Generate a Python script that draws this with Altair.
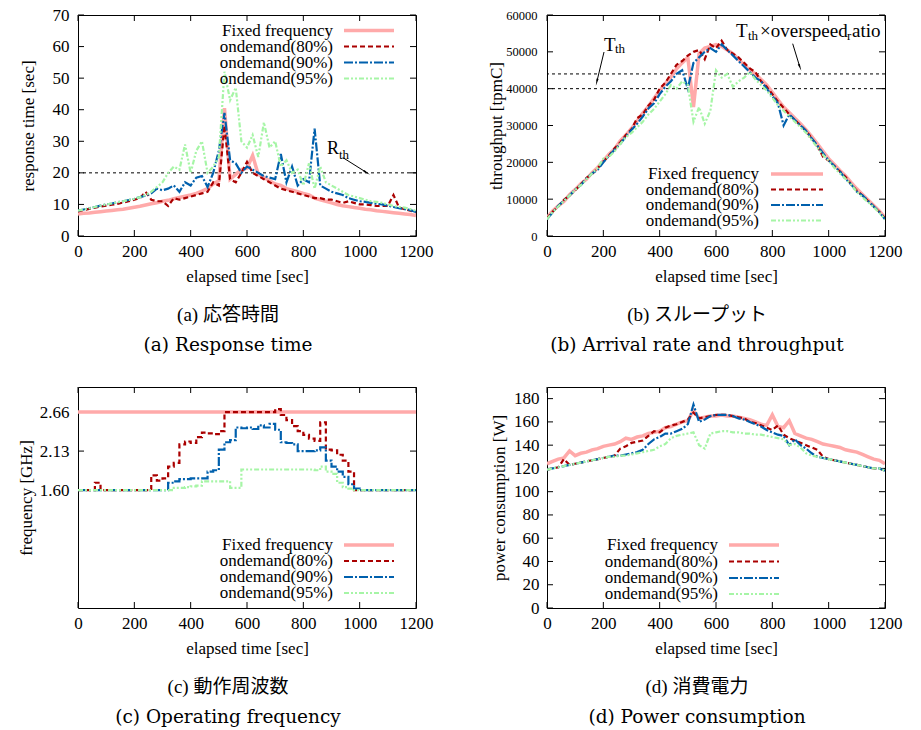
import altair as alt
import pandas as pd

SERIF = "Liberation Serif"
CAPFONT = "Liberation Serif, Noto Sans CJK JP"
CAPFONT_EN = "DejaVu Serif"

elapsed = list(range(0, 1201, 20))
x_ticks = [0, 200, 400, 600, 800, 1000, 1200]

SERIES = ["Fixed frequency", "ondemand(80%)", "ondemand(90%)", "ondemand(95%)"]
COLORS = ["#ffaaaa", "#aa0000", "#0060ad", "#a6f5a6"]
DASHES = [None, [5, 3], [9, 2, 2, 2], [5, 2, 2, 2, 2, 2]]
WIDTHS = [3.5, 2.2, 2.2, 2.2]

# (a) response time [sec]
resp_fixed = [7.0, 7.2, 7.3, 7.5, 7.7, 7.9, 8.1, 8.3, 8.5, 8.8,
              9.1, 9.4, 9.8, 10.2, 10.5, 11.0, 11.3, 11.8, 12.2, 12.6,
              13.0, 13.5, 14.2, 15.0, 16.5, 17.5, 40.5, 18.0, 19.5, 21.0,
              21.5, 25.5, 19.5, 18.5, 17.5, 16.5, 16.0, 15.0, 14.5, 14.0,
              13.5, 13.0, 12.0, 11.5, 11.0, 10.5, 10.0, 9.6, 9.3, 9.0,
              8.8, 8.5, 8.3, 8.0, 7.8, 7.6, 7.4, 7.2, 7.0, 6.8, 6.5]
resp_80 = [7.8, 8.2, 8.6, 9.0, 9.3, 9.6, 9.9, 10.2, 10.6, 11.0,
           11.5, 12.0, 14.0, 11.5, 11.0, 11.0, 9.5, 12.0, 11.5, 12.0,
           12.5, 13.0, 13.5, 14.0, 17.0, 16.0, 35.0, 18.0, 17.0, 20.0,
           23.5, 20.0, 19.0, 18.0, 17.0, 16.0, 15.0, 14.5, 14.0, 13.5,
           13.0, 12.5, 12.0, 12.0, 11.5, 11.5, 11.0, 10.5, 11.0, 10.5,
           10.0, 10.0, 9.8, 9.5, 9.5, 9.5, 13.0, 9.0, 8.5, 8.0, 7.5]
resp_90 = [8.0, 8.4, 8.8, 9.2, 9.6, 10.0, 10.3, 10.7, 11.0, 11.4,
           11.8, 12.3, 12.8, 13.5, 15.0, 14.5, 15.0, 16.0, 14.0, 17.0,
           16.0, 18.5, 19.0, 15.5, 20.0, 27.0, 39.0, 24.0, 23.0, 20.0,
           22.0, 21.0, 20.0, 19.0, 18.5, 18.0, 26.0, 17.0, 22.0, 16.0,
           18.0, 17.0, 34.0, 16.0, 15.0, 14.0, 13.5, 13.0, 12.0, 11.5,
           11.0, 10.8, 10.5, 10.2, 10.0, 9.6, 9.2, 8.8, 8.5, 8.2, 7.6]
resp_95 = [8.0, 8.4, 8.8, 9.2, 9.6, 10.0, 10.3, 10.7, 11.0, 11.4,
           11.8, 12.3, 13.0, 14.0, 15.5, 17.0, 20.0, 22.0, 21.0, 29.0,
           20.0, 27.0, 30.0, 20.0, 22.0, 25.0, 52.0, 43.0, 47.0, 30.0,
           28.0, 32.0, 25.0, 36.0, 28.0, 30.0, 22.0, 24.0, 20.0, 21.0,
           16.0, 23.0, 15.0, 22.0, 17.0, 16.0, 15.0, 14.0, 13.0, 12.5,
           12.0, 11.5, 11.0, 10.8, 10.5, 10.0, 9.5, 9.2, 9.0, 8.5, 8.0]
resp_threshold = [20]
resp_ticks = [0, 10, 20, 30, 40, 50, 60, 70]

# (b) throughput [tpmC]
tput_fixed = [5000, 6800, 8200, 9400, 11200, 12600, 14200, 15400, 17200, 18600,
              20400, 22200, 23600, 25800, 27400, 29200, 31200, 33400, 35200, 37400,
              39400, 41400, 43200, 45400, 47000, 48500, 35000, 49500, 51000, 51500,
              52000, 51500, 50500, 49500, 48000, 46500, 45000, 44000, 42500, 41000,
              39000, 37000, 35000, 33500, 32000, 30500, 28800, 27000, 25000, 23000,
              21000, 19400, 17800, 16300, 14500, 12800, 11300, 9800, 8300, 6800, 5000]
tput_80 = [4800, 6600, 8000, 9800, 11000, 12400, 14000, 15800, 16800, 18400,
           20200, 21800, 23800, 25400, 27400, 29000, 32000, 33000, 35400, 37000,
           40000, 41600, 44000, 46500, 47500, 49000, 50000, 50500, 48000, 52000,
           51000, 53000, 50500, 49500, 48500, 47000, 45500, 44500, 42000, 40500,
           38500, 36500, 34800, 33000, 31500, 30000, 28500, 26500, 24500, 21500,
           20500, 19000, 17500, 16000, 14000, 12300, 11000, 9500, 8000, 6500, 4800]
tput_90 = [4500, 6400, 8200, 9600, 11000, 12600, 13800, 15600, 17000, 18000,
           20000, 21800, 23400, 25000, 27000, 28800, 30500, 32400, 34600, 36000,
           38500, 40500, 42000, 44000, 45000, 40000, 47000, 48500, 50000, 51000,
           50000, 52000, 50500, 49000, 47500, 46000, 44500, 43000, 42000, 40000,
           38000, 36000, 30000, 33000, 31500, 30000, 28500, 26500, 24500, 22500,
           20500, 19000, 17500, 15500, 14000, 12000, 11000, 9500, 8000, 6500, 4500]
tput_95 = [4500, 6500, 8000, 9500, 11000, 12500, 13800, 15400, 17000, 18500,
           21000, 21500, 23000, 25000, 26800, 28000, 29500, 31000, 33000, 34500,
           36500, 38500, 41000, 40000, 42000, 41000, 31000, 35000, 30500, 34000,
           45000, 43000, 44000, 40500, 42000, 43000, 44500, 42500, 41000, 39500,
           37500, 35500, 34000, 32500, 31000, 29500, 28000, 26000, 24000, 22000,
           20500, 18500, 17000, 15500, 14000, 12000, 10500, 9200, 7800, 6300, 4500]
tput_thresholds = [40000, 44000]
tput_ticks = [0, 10000, 20000, 30000, 40000, 50000, 60000]

# (c) frequency [GHz]
freq_fixed_time = [0, 1200]
freq_fixed = [2.66, 2.66]
freq_80 = [1.60, 1.60, 1.60, 1.70, 1.60, 1.60, 1.60, 1.60, 1.60, 1.60,
           1.60, 1.60, 1.60, 1.80, 1.73, 1.76, 1.92, 1.97, 2.22, 2.26,
           2.24, 2.32, 2.38, 2.37, 2.36, 2.40, 2.66, 2.66, 2.66, 2.66,
           2.66, 2.66, 2.66, 2.66, 2.66, 2.70, 2.62, 2.55, 2.47, 2.40,
           2.35, 2.30, 2.27, 2.52, 2.15, 2.14, 2.08, 2.00, 1.85, 1.60,
           1.60, 1.60, 1.60, 1.60, 1.60, 1.60, 1.60, 1.60, 1.60, 1.60, 1.60]
freq_90 = [1.60, 1.60, 1.60, 1.60, 1.60, 1.60, 1.60, 1.60, 1.60, 1.60,
           1.60, 1.60, 1.60, 1.60, 1.60, 1.60, 1.70, 1.72, 1.75, 1.75,
           1.76, 1.76, 1.76, 1.85, 1.87, 2.15, 2.25, 2.28, 2.45, 2.44,
           2.45, 2.43, 2.48, 2.45, 2.50, 2.42, 2.25, 2.24, 2.22, 2.13,
           2.13, 2.13, 2.14, 2.18, 2.00, 1.92, 1.85, 1.78, 1.68, 1.62,
           1.60, 1.60, 1.60, 1.60, 1.60, 1.60, 1.60, 1.60, 1.60, 1.60, 1.60]
freq_95 = [1.60, 1.60, 1.60, 1.60, 1.60, 1.60, 1.60, 1.60, 1.60, 1.60,
           1.60, 1.60, 1.60, 1.60, 1.60, 1.60, 1.60, 1.63, 1.63, 1.64,
           1.65, 1.66, 1.72, 1.72, 1.72, 1.72, 1.72, 1.63, 1.63, 1.88,
           1.88, 1.88, 1.88, 1.88, 1.88, 1.88, 1.88, 1.88, 1.88, 1.88,
           1.88, 1.88, 1.87, 1.92, 1.85, 1.82, 1.70, 1.64, 1.62, 1.60,
           1.60, 1.60, 1.60, 1.60, 1.60, 1.60, 1.60, 1.60, 1.60, 1.60, 1.60]
freq_ticks = [1.60, 2.13, 2.66]

# (d) power consumption [W]
pow_fixed = [124, 126, 128, 129, 135, 131, 133, 134, 136, 137,
             139, 140, 141, 143, 146, 145, 147, 148, 150, 151,
             152, 155, 156, 158, 160, 161, 170, 163, 164, 165,
             165, 166, 165, 165, 164, 163, 162, 160, 158, 157,
             166, 156, 155, 161, 150, 148, 146, 145, 143, 141,
             140, 139, 138, 136, 135, 134, 132, 130, 128, 127, 124]
pow_80 = [119, 120, 121, 128, 123, 124, 125, 126, 127, 128,
          129, 130, 131, 137, 139, 142, 143, 144, 148, 152,
          151, 155, 157, 158, 160, 162, 168, 163, 164, 165,
          166, 166, 166, 165, 164, 163, 160, 159, 157, 155,
          153, 157, 149, 146, 144, 142, 140, 138, 136, 130,
          128, 127, 126, 125, 124, 123, 122, 121, 120, 120, 118]
pow_90 = [119, 120, 121, 122, 123, 124, 125, 126, 127, 128,
          129, 130, 131, 131, 132, 133, 134, 136, 141, 145,
          147, 150, 150, 152, 154, 158, 175, 160, 162, 165,
          166, 166, 166, 165, 163, 162, 160, 158, 156, 153,
          151, 149, 148, 140, 145, 140, 137, 133, 130, 129,
          128, 127, 126, 125, 124, 123, 122, 121, 120, 120, 118]
pow_95 = [119, 120, 121, 122, 123, 124, 125, 126, 127, 128,
          129, 130, 130, 131, 131, 132, 133, 134, 135, 136,
          139, 141, 146, 148, 149, 150, 151, 140, 137, 150,
          151, 152, 152, 151, 151, 150, 150, 149, 149, 148,
          147, 146, 145, 140, 141, 138, 133, 131, 130, 129,
          128, 127, 126, 125, 124, 123, 122, 121, 120, 120, 118]
pow_ticks = [0, 20, 40, 60, 80, 100, 120, 140, 160, 180]

W, H = 338, 221
TICK = 6


def one_row():
    return pd.DataFrame({"k": [0]})


def text_layer(txt, x, y, size, align="left", font=SERIF):
    return alt.Chart(pd.DataFrame({"s": [txt]})).mark_text(
        font=font, fontSize=size, align=align, baseline="middle", color="black"
    ).encode(text="s:N", x=alt.value(x), y=alt.value(y))


def arrow(x1, y1, x2, y2, angle):
    shaft = alt.Chart(one_row()).mark_rule(color="black", strokeWidth=1).encode(
        x=alt.value(x1), y=alt.value(y1), x2=alt.value(x2), y2=alt.value(y2))
    head = alt.Chart(one_row()).mark_point(
        shape="wedge", filled=True, color="black", size=70, angle=angle, opacity=1
    ).encode(x=alt.value(x2), y=alt.value(y2))
    return [shaft, head]


def make_panel(times, values, ydom, yticks, ytitle, yfmt, ylab_size, ylab_pad,
               ytitle_x, legend, captions, thresholds=None, interp="linear",
               extras=None):
    xs = alt.Scale(domain=[0, 1200], nice=False, zero=False)
    ys = alt.Scale(domain=ydom, nice=False, zero=False)
    xaxis = alt.Axis(title="elapsed time [sec]", values=x_ticks, format="d",
                     ticks=False, domain=False, grid=False, labelFont=SERIF,
                     labelFontSize=17, labelPadding=7, labelFlush=False,
                     labelOverlap=False, labelColor="black", titleFont=SERIF,
                     titleFontSize=17, titleFontWeight="normal",
                     titleColor="black", titleY=40, titleBaseline="middle")
    yaxis = alt.Axis(title=ytitle, values=yticks, format=yfmt, ticks=False,
                     domain=False, grid=False, labelFont=SERIF,
                     labelFontSize=ylab_size, labelPadding=ylab_pad,
                     labelFlush=False, labelOverlap=False, labelColor="black",
                     titleFont=SERIF, titleFontSize=17, titleFontWeight="normal",
                     titleColor="black", titleX=ytitle_x, titleBaseline="middle")
    X = alt.X("t:Q", scale=xs, axis=xaxis)
    Y = alt.Y("v:Q", scale=ys, axis=yaxis)
    layers = []
    ydf = pd.DataFrame({"v": yticks})
    xdf = pd.DataFrame({"t": x_ticks})
    layers.append(alt.Chart(ydf).mark_rule(color="black", strokeWidth=1).encode(
        y=Y, x=alt.value(0), x2=alt.value(TICK)))
    layers.append(alt.Chart(ydf).mark_rule(color="black", strokeWidth=1).encode(
        y=Y, x=alt.value(W - TICK), x2=alt.value(W)))
    layers.append(alt.Chart(xdf).mark_rule(color="black", strokeWidth=1).encode(
        x=X, y=alt.value(H - TICK), y2=alt.value(H)))
    layers.append(alt.Chart(xdf).mark_rule(color="black", strokeWidth=1).encode(
        x=X, y=alt.value(0), y2=alt.value(TICK)))
    if thresholds:
        layers.append(alt.Chart(pd.DataFrame({"v": thresholds})).mark_rule(
            color="black", strokeWidth=1, strokeDash=[3, 3]).encode(y=Y))
    for i in range(4):
        kw = dict(color=COLORS[i], strokeWidth=WIDTHS[i], clip=True,
                  interpolate=(interp if i > 0 else "linear"))
        if DASHES[i]:
            kw["strokeDash"] = DASHES[i]
        df = pd.DataFrame({"t": times[i], "v": values[i]})
        layers.append(alt.Chart(df).mark_line(**kw).encode(x=X, y=Y))
    # legend (gnuplot style: label then sample)
    tx, sx0, sx1, rows = legend
    for i in range(4):
        layers.append(text_layer(SERIES[i], tx, rows[i], 17, align="right"))
        kw = dict(color=COLORS[i], strokeWidth=WIDTHS[i])
        if DASHES[i]:
            kw["strokeDash"] = DASHES[i]
        layers.append(alt.Chart(one_row()).mark_rule(**kw).encode(
            x=alt.value(sx0), x2=alt.value(sx1), y=alt.value(rows[i])))
    if extras:
        layers += extras
    layers.append(text_layer(captions[0], 150, H + 79, 19, align="center", font=CAPFONT))
    layers.append(text_layer(captions[1], 150, H + 109, 18.5, align="center", font=CAPFONT_EN))
    return alt.layer(*layers).properties(width=W, height=H)


a_extras = [text_layer("R", 249, 133.5, 18), text_layer("th", 261, 139.5, 13)]
a_extras += arrow(264.7, 142.5, 287.9, 157.1, 122)

b_extras = [text_layer("T", 57, 29.5, 19), text_layer("th", 68, 34, 13),
            text_layer("T", 189, 16, 19), text_layer("th", 201, 21, 13),
            text_layer("×overspeed", 213, 16, 19), text_layer("r", 300, 21, 13),
            text_layer("atio", 305, 16, 19)]
b_extras += arrow(57, 37, 50, 66, 194)
b_extras += arrow(245.7, 28.7, 252.6, 51.3, 159)

pa = make_panel([elapsed] * 4, [resp_fixed, resp_80, resp_90, resp_95], [0, 70],
                resp_ticks, "response time [sec]", "d", 17, 9, -49.5,
                (255, 266, 316, [15.5, 31.5, 47.5, 63.5]),
                ["(a) 応答時間", "(a) Response time"],
                thresholds=resp_threshold, extras=a_extras)
pb = make_panel([elapsed] * 4, [tput_fixed, tput_80, tput_90, tput_95], [0, 60000],
                tput_ticks, "throughput [tpmC]", "d", 12.5, 10, -51,
                (212, 224, 276, [159, 174.5, 190, 205.5]),
                ["(b) スループット", "(b) Arrival rate and throughput"],
                thresholds=tput_thresholds, extras=b_extras)
pc = make_panel([freq_fixed_time, elapsed, elapsed, elapsed],
                [freq_fixed, freq_80, freq_90, freq_95], [0, 3.0],
                freq_ticks, "frequency [GHz]", ".2f", 17, 9, -51.5,
                (255, 266, 316, [158, 174, 190, 206]),
                ["(c) 動作周波数", "(c) Operating frequency"], interp="step-after")
pd_ = make_panel([elapsed] * 4, [pow_fixed, pow_80, pow_90, pow_95], [0, 190],
                 pow_ticks, "power consumption [W]", "d", 17, 8, -48,
                 (171, 182, 232, [158, 174.5, 191, 207]),
                 ["(d) 消費電力", "(d) Power consumption"])

chart = alt.concat(pa, pb, pc, pd_, columns=2,
                   spacing={"row": 151, "column": 131}, bounds="flush").properties(
    padding={"left": 9, "top": -3, "right": 5, "bottom": 0}
).configure_view(stroke="black", strokeWidth=1)

chart.save("out.html", embed_options={"renderer": "svg", "actions": False})
